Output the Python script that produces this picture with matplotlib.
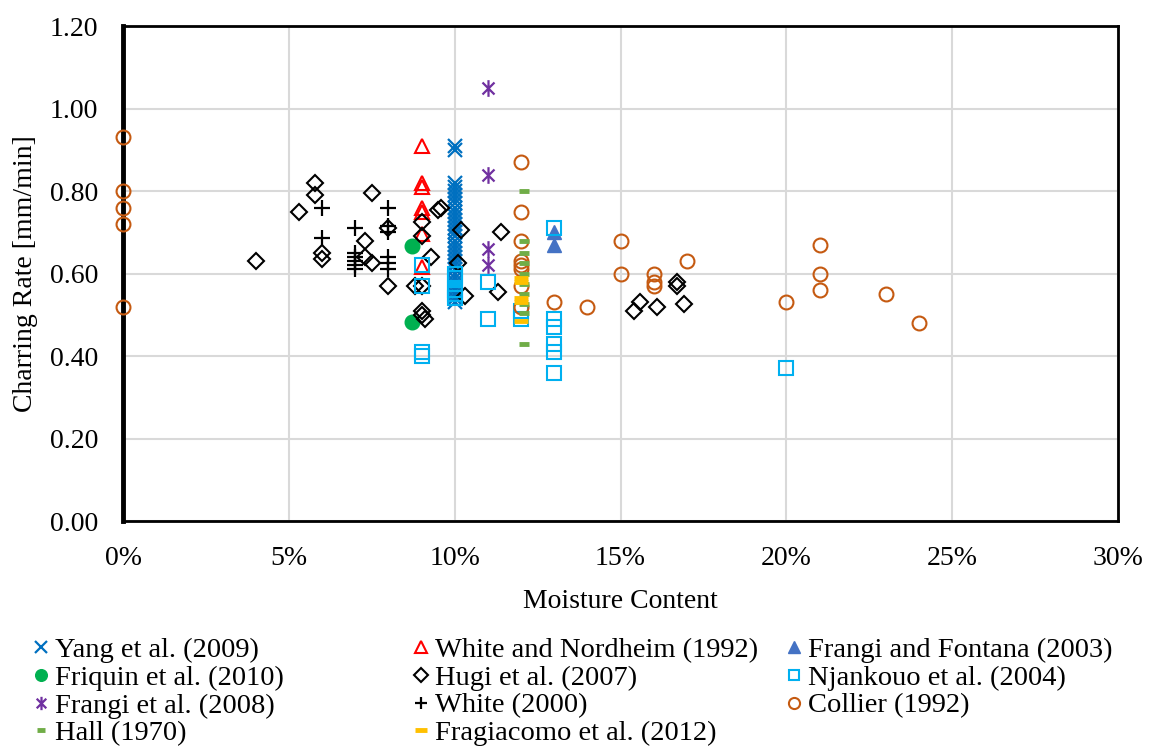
import matplotlib.pyplot as plt
from matplotlib.path import Path
from matplotlib.ticker import FuncFormatter, MultipleLocator

plt.rcParams['font.family'] = ['Liberation Serif', 'DejaVu Serif']

# Charring rate (mm/min) against moisture content (%) for each study
yang_mc = [10.0] * 32
yang_rate = [0.91, 0.90, 0.82, 0.81, 0.80, 0.79, 0.78, 0.77, 0.76, 0.75, 0.74,
             0.73, 0.72, 0.71, 0.70, 0.69, 0.68, 0.67, 0.66, 0.65, 0.64, 0.63,
             0.62, 0.61, 0.60, 0.59, 0.58, 0.57, 0.56, 0.55, 0.54, 0.53]

white_nordheim_mc = [9.0, 9.0, 9.0, 9.0, 9.0, 9.0, 9.0]
white_nordheim_rate = [0.91, 0.82, 0.81, 0.76, 0.75, 0.695, 0.615]

frangi_fontana_mc = [13.0, 13.0]
frangi_fontana_rate = [0.70, 0.67]

friquin_mc = [8.7, 8.7]
friquin_rate = [0.667, 0.483]

hugi_mc = [4.0, 5.3, 5.8, 5.8, 6.0, 6.0, 7.3, 7.5, 7.3, 7.5, 8.0, 8.0,
           9.0, 9.0, 9.3, 8.8, 9.0, 9.0, 9.0, 9.1, 9.5, 9.6, 10.2, 10.1,
           10.3, 11.4, 11.3, 15.4, 15.6, 16.1, 16.7, 16.7, 16.9]
hugi_rate = [0.63, 0.75, 0.82, 0.79, 0.65, 0.635, 0.68, 0.795, 0.64, 0.625,
             0.71, 0.57, 0.725, 0.69, 0.64, 0.57, 0.57, 0.51, 0.50, 0.49,
             0.755, 0.76, 0.705, 0.625, 0.545, 0.70, 0.555, 0.51, 0.53,
             0.52, 0.58, 0.57, 0.525]

njankouo_mc = [9.0, 9.0, 9.0, 9.0, 10.0, 10.0, 10.0, 10.0, 10.0, 11.0, 11.0,
               12.0, 12.0, 13.0, 13.0, 13.0, 13.0, 13.0, 13.0, 20.0]
njankouo_rate = [0.62, 0.57, 0.41, 0.40, 0.60, 0.59, 0.56, 0.55, 0.54, 0.58,
                 0.49, 0.51, 0.49, 0.71, 0.49, 0.47, 0.43, 0.41, 0.36, 0.37]

frangi_mc = [11.0, 11.0, 11.0, 11.0]
frangi_rate = [1.05, 0.84, 0.66, 0.62]

white_mc = [6.0, 6.0, 7.0, 7.0, 7.0, 7.0, 7.0, 7.0, 8.0, 8.0, 8.0, 8.0,
            8.0, 8.0]
white_rate = [0.76, 0.685, 0.71, 0.65, 0.64, 0.63, 0.62, 0.61, 0.76, 0.715,
              0.70, 0.64, 0.625, 0.61]

collier_mc = [0.0, 0.0, 0.0, 0.0, 0.0, 12.0, 12.0, 12.0, 12.0, 12.0, 12.0,
              12.0, 12.0, 13.0, 14.0, 15.0, 15.0, 16.0, 16.0, 16.0, 17.0,
              20.0, 21.0, 21.0, 21.0, 23.0, 24.0]
collier_rate = [0.93, 0.80, 0.76, 0.72, 0.52, 0.87, 0.75, 0.68, 0.63, 0.62,
                0.61, 0.57, 0.52, 0.53, 0.52, 0.68, 0.60, 0.60, 0.58, 0.57,
                0.63, 0.53, 0.67, 0.60, 0.56, 0.55, 0.48]

hall_mc = [12.1] * 10
hall_rate = [0.80, 0.68, 0.65, 0.625, 0.60, 0.575, 0.55, 0.525, 0.505, 0.43]

fragiacomo_mc = [12.0, 12.0, 12.0, 12.0, 12.0]
fragiacomo_rate = [0.59, 0.58, 0.54, 0.53, 0.485]

# Excel-style star: an x with a vertical bar through it
star = Path([(0, -1), (0, 1), (-0.72, -0.72), (0.72, 0.72), (-0.72, 0.72), (0.72, -0.72)],
            [Path.MOVETO, Path.LINETO, Path.MOVETO, Path.LINETO, Path.MOVETO, Path.LINETO])

fig = plt.figure(figsize=(11.52, 7.5), dpi=100)
ax = fig.add_axes([0.1068, 0.3053, 0.8637, 0.66])

series = [
    ("Yang et al. (2009)", yang_mc, yang_rate,
     dict(marker='x', ms=10, mew=1.6, color='#0070C0', mfc='none')),
    ("White and Nordheim (1992)", white_nordheim_mc, white_nordheim_rate,
     dict(marker='^', ms=10, mew=1.5, color='#FF0000', mfc='none')),
    ("Frangi and Fontana (2003)", frangi_fontana_mc, frangi_fontana_rate,
     dict(marker='^', ms=10, mew=1.0, color='#4472C4', mfc='#4472C4')),
    ("Friquin et al. (2010)", friquin_mc, friquin_rate,
     dict(marker='o', ms=10.5, mew=1.0, color='#00B050', mfc='#00B050')),
    ("Hugi et al. (2007)", hugi_mc, hugi_rate,
     dict(marker='D', ms=8.5, mew=1.5, color='black', mfc='none')),
    ("Njankouo et al. (2004)", njankouo_mc, njankouo_rate,
     dict(marker='s', ms=9.5, mew=1.5, color='#00B0F0', mfc='none')),
    ("Frangi et al. (2008)", frangi_mc, frangi_rate,
     dict(marker=star, ms=12, mew=1.6, color='#7030A0', mfc='none')),
    ("White (2000)", white_mc, white_rate,
     dict(marker='+', ms=11, mew=1.6, color='black', mfc='none')),
    ("Collier (1992)", collier_mc, collier_rate,
     dict(marker='o', ms=10, mew=1.5, color='#C55A11', mfc='none')),
    ("Hall (1970)", hall_mc, hall_rate,
     dict(marker='_', ms=7, mew=3.5, color='#70AD47')),
    ("Fragiacomo et al. (2012)", fragiacomo_mc, fragiacomo_rate,
     dict(marker='_', ms=10, mew=3.5, color='#FFC000')),
]

handles = []
for label, mc, rate, style in series:
    h, = ax.plot([m / 100 for m in mc], rate, linestyle='none', label=label,
                 clip_on=False, zorder=3, **style)
    handles.append(h)

ax.set_xlim(0, 0.30)
ax.set_ylim(0, 1.20)
ax.xaxis.set_major_locator(MultipleLocator(0.05))
ax.yaxis.set_major_locator(MultipleLocator(0.20))
ax.xaxis.set_major_formatter(FuncFormatter(lambda v, p: f"{v * 100:.0f}%"))
ax.yaxis.set_major_formatter(FuncFormatter(lambda v, p: f"{v:.2f}"))
ax.tick_params(axis='both', length=0, labelsize=20, colors='black')
ax.tick_params(axis='y', pad=18)
ax.tick_params(axis='x', pad=18)
ax.grid(True, color='#D9D9D9', linewidth=1.5, zorder=0)
ax.set_axisbelow(True)
for s in ax.spines.values():
    s.set_color('black')
    s.set_linewidth(2.0)
ax.spines['left'].set_linewidth(3.5)

ax.set_xlabel("Moisture Content", fontsize=20, labelpad=13)
ax.set_ylabel("Charring Rate [mm/min]", fontsize=20, labelpad=8)

# Legend laid out as three separate columns below the plot
cols = [(0.028, [0, 3, 6, 9]), (0.358, [1, 4, 7, 10]), (0.682, [2, 5, 8])]
for x0, idx in cols:
    fig.legend(handles=[handles[i] for i in idx], loc='upper left',
               bbox_to_anchor=(x0, 0.151), frameon=False, fontsize=20.5,
               markerscale=0.8, handlelength=0.6, handletextpad=0.2,
               labelspacing=0.07, borderaxespad=0, borderpad=0)

fig.savefig('out.png', dpi=100)
